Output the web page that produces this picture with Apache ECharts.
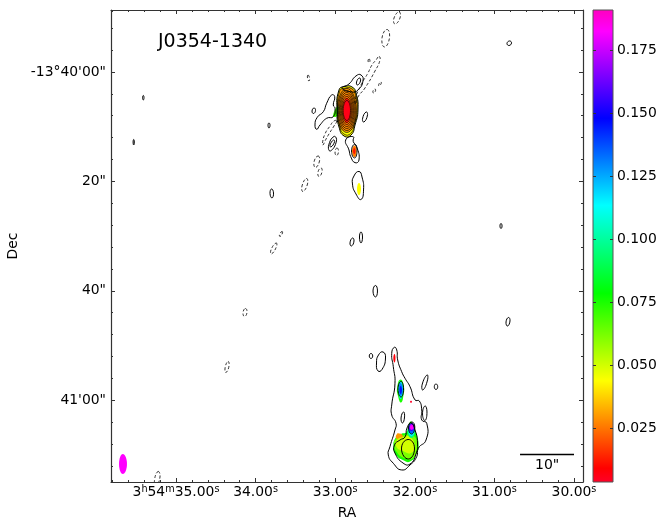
<!DOCTYPE html>
<html><head><meta charset="utf-8">
<style>html,body{margin:0;padding:0;background:#fff}#c{width:670px;height:518px}</style>
<script src="https://cdn.jsdelivr.net/npm/echarts@6/dist/echarts.min.js"></script>
</head><body><div id="c"></div>
<script>
// Axis ranges and ticks (RA seconds of 3h54m; Dec arcsec south of -13d40'00")
const raRange = [29.887, 35.8166];
const decRange = [-11.33, 74.96];
const fluxRange = [0.0036, 0.191];
const raTicks = [30, 31, 32, 33, 34, 35];
const raTickLabels = ['{b|30.00}{s|s}', '{b|31.00}{s|s}', '{b|32.00}{s|s}', '{b|33.00}{s|s}', '{b|34.00}{s|s}', '{b|3}{s|h}{b|54}{s|m}{b|35.00}{s|s}'];
const raMinorTicks = [30.2,30.4,30.6,30.8,31.2,31.4,31.6,31.8,32.2,32.4,32.6,32.8,33.2,33.4,33.6,33.8,34.2,34.4,34.6,34.8,35.2,35.4,35.6,35.8];
const decTicks = [0, 20, 40, 60];
const decTickLabels = ['-13°40\'00"', '20"', '40"', '41\'00"'];
const decMinorTicks = [-8,-4,4,8,12,16,24,28,32,36,44,48,52,56,64,68,72];
const fluxTicks = [0.025, 0.05, 0.075, 0.1, 0.125, 0.15, 0.175];
// gist_rainbow colour map
const cmapPos = [0, 0.03, 0.215, 0.4, 0.586, 0.77, 0.954, 1];
const cmapRgb = [[255,0,41],[255,0,0],[255,255,0],[0,255,0],[0,255,255],[0,0,255],[255,0,255],[255,0,191]];
// Scale bar
const scaleBarRa = [30.678, 30.0];
const scaleBarDec = 69.93;

// Filled flux regions, painted in order
const fillFlux = [
  0.044, 0.030, 0.028, 0.026, 0.022, 0.014, 0.006, 0.07,
  0.026, 0.012, 0.044,
  0.075, 0.11, 0.13, 0.146, 0.008, 0.004,
  0.076, 0.062, 0.03, 0.05,
  0.095, 0.115, 0.135, 0.155, 0.17, 0.183,
  0.1824
];
const fillShapes = [
  [[32.952,3.29],[32.877,2.65],[32.789,2.74],[32.739,3.84],[32.714,6.95],[32.751,9.69],[32.801,11.52],[32.889,11.70],[32.952,10.06],[32.977,7.31]],
  [[32.945,3.55],[32.875,2.96],[32.794,3.04],[32.747,4.06],[32.724,6.96],[32.758,9.50],[32.805,10.70],[32.887,10.85],[32.945,9.85],[32.968,7.29]],
  [[32.854,3.38],[32.747,7.04],[32.854,10.70],[32.961,7.04]],
  [[32.854,4.11],[32.772,7.04],[32.854,9.97],[32.936,7.04]],
  [[32.854,4.85],[32.797,7.04],[32.854,9.23],[32.911,7.04]],
  [[32.854,4.70],[32.808,7.04],[32.854,9.38],[32.900,7.04]],
  [[32.854,5.04],[32.814,7.04],[32.854,9.04],[32.894,7.04]],
  [[32.965,6.22],[32.977,8.04],[33.028,8.04]],
  [[32.757,13.44],[32.732,14.44],[32.757,15.54],[32.789,14.44]],
  [[32.760,13.89],[32.745,14.44],[32.760,14.99],[32.776,14.44]],
  [[32.701,20.29],[32.676,21.39],[32.701,22.49],[32.726,21.39]],
  [[32.180,56.22],[32.138,57.40],[32.142,59.05],[32.173,60.42],[32.211,59.23],[32.220,57.59]],
  [[32.180,56.49],[32.146,57.77],[32.157,59.23],[32.180,59.78],[32.202,58.87],[32.208,57.59]],
  [[32.180,56.86],[32.151,57.95],[32.176,59.23],[32.201,57.95]],
  [[32.177,57.40],[32.161,58.14],[32.177,58.87],[32.192,58.14]],
  [[32.255,51.56],[32.243,52.29],[32.255,53.11],[32.270,52.29]],
  [[32.048,60.09],[32.035,60.28],[32.048,60.46],[32.060,60.28]],
  [[32.048,63.89],[32.004,65.27],[31.972,66.55],[31.953,68.37],[31.979,69.84],[32.060,71.21],[32.136,71.03],[32.236,70.02],[32.268,68.56],[32.242,66.91],[32.173,66.18],[32.104,65.82],[32.079,64.72]],
  [[32.249,67.28],[32.123,66.36],[32.010,66.55],[31.972,68.37],[32.023,70.57],[32.136,70.57],[32.236,69.29],[32.255,68.19]],
  [[32.224,66.18],[32.198,66.09],[32.160,66.27],[32.155,66.80],[32.198,67.10],[32.236,66.91]],
  [[32.224,67.28],[32.136,66.73],[32.060,66.73],[32.004,68.37],[32.048,69.66],[32.148,69.29],[32.230,68.56]],
  [[32.041,64.17],[31.997,65.45],[32.041,66.91],[32.092,65.63]],
  [[32.041,64.26],[32.001,65.27],[32.038,66.55],[32.085,65.45]],
  [[32.040,64.26],[32.004,65.09],[32.038,66.09],[32.079,65.27]],
  [[32.040,64.17],[32.006,64.90],[32.038,65.63],[32.075,65.09]],
  [[32.039,64.35],[32.010,64.90],[32.038,65.45],[32.067,64.99]],
  [[32.039,64.53],[32.016,64.99],[32.038,65.36],[32.060,64.99]],
  [[35.668,69.84],[35.616,71.67],[35.668,73.49],[35.716,71.67]]
];

// Bright core contours, drawn finer
const coreContours = [
  [[32.945,3.55],[32.875,2.96],[32.794,3.04],[32.747,4.06],[32.724,6.96],[32.758,9.50],[32.805,11.21],[32.887,11.37],[32.945,9.85],[32.968,7.29]],
  [[32.854,3.02],[32.735,7.04],[32.854,11.06],[32.973,7.04]],
  [[32.854,3.38],[32.747,7.04],[32.854,10.70],[32.961,7.04]],
  [[32.854,3.75],[32.760,7.04],[32.854,10.33],[32.948,7.04]],
  [[32.854,4.11],[32.772,7.04],[32.854,9.97],[32.936,7.04]],
  [[32.854,4.48],[32.785,7.04],[32.854,9.60],[32.923,7.04]],
  [[32.854,4.85],[32.797,7.04],[32.854,9.23],[32.911,7.04]],
  [[32.854,5.21],[32.808,7.04],[32.854,8.87],[32.900,7.04]]
];

// Positive contours (solid lines)
const solidContours = [
  [[33.266,6.58],[33.247,7.04],[33.273,7.59],[33.291,7.13]],
  [[33.254,9.69],[33.225,8.28],[33.149,7.26],[33.107,5.72],[33.044,4.20],[33.006,4.52],[33.024,6.03],[33.002,6.64],[33.024,8.17],[33.107,8.46],[33.191,9.69],[33.232,10.48]],
  [[32.952,3.29],[32.877,2.65],[32.789,2.74],[32.739,3.84],[32.714,6.95],[32.751,9.69],[32.801,11.52],[32.889,11.70],[32.952,10.06],[32.977,7.31]],
  [[32.915,2.93],[32.827,2.19],[32.739,0.73],[32.676,0.55],[32.651,1.65],[32.714,3.29],[32.789,3.66]],
  [[32.695,1.10],[32.682,1.65],[32.720,2.38],[32.732,1.83]],
  [[32.613,7.31],[32.594,7.86],[32.638,9.14],[32.657,8.59]],
  [[33.015,11.79],[32.984,12.61],[33.059,14.44],[33.084,13.53]],
  [[33.021,12.43],[33.009,12.80],[33.053,13.71],[33.065,13.35]],
  [[32.773,11.83],[32.773,12.74],[32.730,13.66],[32.701,16.09],[32.751,16.58],[32.805,15.48],[32.827,14.26],[32.868,12.43]],
  [[32.757,13.25],[32.726,14.44],[32.757,15.72],[32.795,14.44]],
  [[32.701,18.19],[32.663,19.20],[32.644,21.57],[32.676,23.31],[32.739,22.30],[32.783,20.48],[32.764,19.01]],
  [[33.800,21.39],[33.775,22.12],[33.794,23.03],[33.819,22.21]],
  [[32.783,30.35],[32.764,30.90],[32.795,31.81],[32.814,31.26]],
  [[32.676,29.25],[32.657,30.17],[32.676,31.26],[32.695,30.17]],
  [[32.494,39.03],[32.469,40.04],[32.494,41.13],[32.525,40.04]],
  [[30.823,44.88],[30.804,45.52],[30.835,46.44],[30.854,45.70]],
  [[30.810,-5.67],[30.785,-5.30],[30.816,-4.84],[30.842,-5.21]],
  [[35.411,4.30],[35.402,4.70],[35.411,5.12],[35.420,4.70]],
  [[35.531,12.34],[35.524,12.80],[35.531,13.35],[35.539,12.80]],
  [[33.832,9.32],[33.819,9.74],[33.832,10.24],[33.844,9.74]],
  [[30.917,27.70],[30.904,28.15],[30.917,28.61],[30.930,28.15]],
  [[32.550,51.46],[32.529,51.92],[32.550,52.38],[32.572,51.92]],
  [[32.399,51.19],[32.368,52.29],[32.412,54.39],[32.462,54.66],[32.481,53.20],[32.456,51.74]],
  [[32.257,50.33],[32.227,50.82],[32.215,52.65],[32.165,54.79],[32.123,56.00],[32.060,57.53],[31.997,59.96],[31.943,60.15],[31.913,61.79],[31.913,63.62],[31.850,64.22],[31.859,67.28],[31.956,68.79],[31.976,70.33],[32.060,71.85],[32.165,72.76],[32.270,71.54],[32.333,70.02],[32.312,68.50],[32.249,65.45],[32.236,64.22],[32.290,62.71],[32.290,60.88],[32.249,56.91],[32.270,53.88],[32.290,51.43]],
  [[31.847,55.39],[31.840,56.31],[31.897,58.14],[31.909,57.22]],
  [[31.734,57.04],[31.712,57.53],[31.734,58.05],[31.755,57.53]],
  [[31.872,61.06],[31.847,62.16],[31.872,63.71],[31.903,62.52]],
  [[32.142,62.16],[32.129,63.07],[32.154,64.17],[32.173,63.26]],
  [[32.173,56.58],[32.142,57.95],[32.173,59.42],[32.211,57.95]],
  [[32.048,64.17],[31.997,65.45],[31.966,67.83],[31.985,69.84],[32.060,71.67],[32.148,71.49],[32.249,69.66],[32.255,68.19],[32.186,67.28],[32.123,66.73],[32.098,65.09]],
  [[32.085,67.19],[32.004,68.74],[32.079,70.75],[32.167,68.92]],
  [[32.039,63.98],[32.000,64.90],[32.039,66.18],[32.079,65.09]]
];

// Negative contours (dashed lines)
const dashedContours = [
  [[32.198,-10.97],[32.186,-9.87],[32.249,-8.78],[32.261,-9.87]],
  [[32.349,-7.77],[32.318,-6.22],[32.381,-4.57],[32.412,-6.22]],
  [[32.450,-2.83],[32.437,-2.19],[32.500,-0.18],[32.626,2.93],[32.714,4.57],[32.739,5.85],[32.751,5.12],[32.676,2.38],[32.588,0.18],[32.538,-1.28],[32.487,-2.19]],
  [[32.575,-2.38],[32.563,-2.01],[32.575,-1.74],[32.588,-2.01]],
  [[32.425,1.83],[32.425,2.19],[32.450,2.56],[32.450,2.19]],
  [[32.500,3.11],[32.494,3.47],[32.519,3.84],[32.525,3.47]],
  [[33.342,0.55],[33.323,1.10],[33.329,1.65],[33.348,1.10]],
  [[32.981,8.96],[33.015,9.87],[33.078,11.33],[33.128,12.61],[33.153,13.35],[33.160,12.98],[33.128,11.33],[33.065,9.87],[33.015,8.96]],
  [[32.977,13.89],[32.959,14.63],[32.984,15.27],[33.002,14.63]],
  [[33.216,15.36],[33.197,16.27],[33.247,17.46],[33.266,16.45]],
  [[33.178,17.55],[33.166,18.28],[33.203,19.11],[33.216,18.28]],
  [[33.361,19.47],[33.348,20.48],[33.405,21.85],[33.417,20.84]],
  [[33.668,29.16],[33.662,29.43],[33.693,30.07],[33.700,29.71]],
  [[33.744,31.26],[33.737,31.90],[33.800,33.27],[33.807,32.54]],
  [[34.127,43.24],[34.108,43.97],[34.139,44.70],[34.158,43.97]],
  [[34.347,52.93],[34.334,53.75],[34.372,54.94],[34.384,54.12]],
  [[35.226,73.04],[35.201,74.04],[35.251,75.69],[35.270,74.59]]
];

const FONT = 'DejaVu Sans';
const AXC = '#333';

function fluxColor(f) {
  const t = (f - fluxRange[0]) / (fluxRange[1] - fluxRange[0]);
  let i = 0;
  while (i < cmapPos.length - 2 && t > cmapPos[i + 1]) i++;
  const u = Math.min(1, Math.max(0, (t - cmapPos[i]) / (cmapPos[i + 1] - cmapPos[i])));
  const c = cmapRgb[i].map((v, k) => Math.round(v + (cmapRgb[i + 1][k] - v) * u));
  return 'rgb(' + c.join(',') + ')';
}

const chart = echarts.init(document.getElementById('c'), null, {renderer: 'canvas'});
const mainRect = {left: 111, width: 472, top: 10, height: 472, outerBoundsMode: 'none', containLabel: false};

function xAx(grid, pos, vals, len, extra) {
  return Object.assign({
    type: 'value', gridIndex: grid, position: pos, inverse: true, min: raRange[0], max: raRange[1],
    splitLine: {show: false},
    axisLine: {show: grid === 0, onZero: false, lineStyle: {color: AXC, width: 1.2}},
    axisTick: {show: true, inside: true, length: len, customValues: vals, lineStyle: {color: AXC, width: 1}},
    axisLabel: {show: false}
  }, extra || {});
}
function yAx(grid, pos, vals, len, extra) {
  return Object.assign({
    type: 'value', gridIndex: grid, position: pos, inverse: true, min: decRange[0], max: decRange[1],
    splitLine: {show: false},
    axisLine: {show: grid === 0, onZero: false, lineStyle: {color: AXC, width: 1.2}},
    axisTick: {show: true, inside: true, length: len, customValues: vals, lineStyle: {color: AXC, width: 1}},
    axisLabel: {show: false}
  }, extra || {});
}
function contourSeries(list, width, dash) {
  return {
    type: 'custom', xAxisIndex: 0, yAxisIndex: 0, clip: true, silent: true, z: 3,
    data: list.map((_, i) => [i]),
    renderItem: function (params, api) {
      const idx = api.value(0);
      return {
        type: 'polygon',
        shape: {points: list[idx].map(p => api.coord(p)), smooth: 0.55},
        style: {fill: null, stroke: '#000', lineWidth: width, lineDash: dash ? [3, 2] : null}
      };
    }
  };
}

chart.setOption({
  animation: false,
  backgroundColor: '#fff',
  textStyle: {fontFamily: FONT},
  title: [
    {text: 'J0354-1340', left: 158, top: 33, padding: 0, textStyle: {fontFamily: FONT, fontSize: 19, fontWeight: 'normal', color: '#000'}},
    {text: '10"', left: 535, top: 458, padding: 0, textStyle: {fontFamily: FONT, fontSize: 14, fontWeight: 'normal', color: '#000'}}
  ],
  grid: [
    Object.assign({}, mainRect),
    Object.assign({}, mainRect),
    {left: 593, width: 20, top: 10, height: 472, outerBoundsMode: 'none', containLabel: false}
  ],
  xAxis: [
    xAx(0, 'bottom', raTicks, 4, {
      name: 'RA', nameLocation: 'middle', nameGap: 24,
      nameTextStyle: {fontFamily: FONT, fontSize: 13.9, color: '#000'},
      axisLabel: {show: true, customValues: raTicks, margin: 2, fontFamily: FONT, fontSize: 13.9, color: '#000',
        rich: {b: {fontFamily: FONT, fontSize: 13.9, lineHeight: 16, color: '#000'},
               s: {fontFamily: FONT, fontSize: 9.7, lineHeight: 10, verticalAlign: 'top', color: '#000'}},
        formatter: v => raTickLabels[raTicks.indexOf(v)]}
    }),
    xAx(0, 'top', raTicks, 4),
    xAx(1, 'bottom', raMinorTicks, 2),
    xAx(1, 'top', raMinorTicks, 2),
    {type: 'value', gridIndex: 2, min: 0, max: 1, show: false}
  ],
  yAxis: [
    yAx(0, 'left', decTicks, 4, {
      name: 'Dec', nameLocation: 'middle', nameGap: 83,
      nameTextStyle: {fontFamily: FONT, fontSize: 13.9, color: '#000'},
      axisLabel: {show: true, customValues: decTicks, margin: 5, fontFamily: FONT, fontSize: 13.9, color: '#000',
        formatter: v => decTickLabels[decTicks.indexOf(v)]}
    }),
    yAx(0, 'right', decTicks, 4),
    yAx(1, 'left', decMinorTicks, 2),
    yAx(1, 'right', decMinorTicks, 2),
    {type: 'value', gridIndex: 2, position: 'right', min: fluxRange[0], max: fluxRange[1], z: 5,
      splitLine: {show: false},
      axisLine: {show: false, onZero: false},
      axisTick: {show: true, inside: true, length: 3, customValues: fluxTicks, lineStyle: {color: AXC}},
      axisLabel: {show: true, customValues: fluxTicks, margin: 4, fontFamily: FONT, fontSize: 13.9, color: '#000',
        formatter: v => v.toFixed(3)}},
    {type: 'value', gridIndex: 2, position: 'left', min: fluxRange[0], max: fluxRange[1], z: 5,
      splitLine: {show: false},
      axisLine: {show: false, onZero: false},
      axisTick: {show: true, inside: true, length: 3, customValues: fluxTicks, lineStyle: {color: AXC}},
      axisLabel: {show: false}}
  ],
  series: [
    {
      type: 'custom', xAxisIndex: 0, yAxisIndex: 0, clip: true, silent: true, z: 2,
      data: fillFlux.map((_, i) => [i]),
      renderItem: function (params, api) {
        const idx = api.value(0);
        return {
          type: 'polygon',
          shape: {points: fillShapes[idx].map(p => api.coord(p)), smooth: 0.55},
          style: {fill: fluxColor(fillFlux[idx]), stroke: null}
        };
      }
    },
    contourSeries(dashedContours, 0.8, true),
    contourSeries(coreContours, 0.7, false),
    contourSeries(solidContours, 1, false),
    {
      type: 'line', xAxisIndex: 0, yAxisIndex: 0, symbol: 'none', silent: true, z: 4,
      data: scaleBarRa.map(r => [r, scaleBarDec]),
      lineStyle: {color: '#000', width: 1.4}
    },
    {
      type: 'custom', xAxisIndex: 4, yAxisIndex: 4, silent: true, z: 2,
      data: [[0, fluxRange[0], fluxRange[1]]],
      renderItem: function (params, api) {
        const a = api.coord([0, api.value(2)]);
        const b = api.coord([1, api.value(1)]);
        const stops = cmapPos.map((t, i) => ({offset: 1 - t, color: 'rgb(' + cmapRgb[i].join(',') + ')'})).reverse();
        return {
          type: 'rect',
          shape: {x: a[0], y: a[1], width: b[0] - a[0], height: b[1] - a[1]},
          style: {fill: new echarts.graphic.LinearGradient(0, 0, 0, 1, stops), stroke: '#555', lineWidth: 1}
        };
      }
    }
  ]
});
</script>
</body></html>
